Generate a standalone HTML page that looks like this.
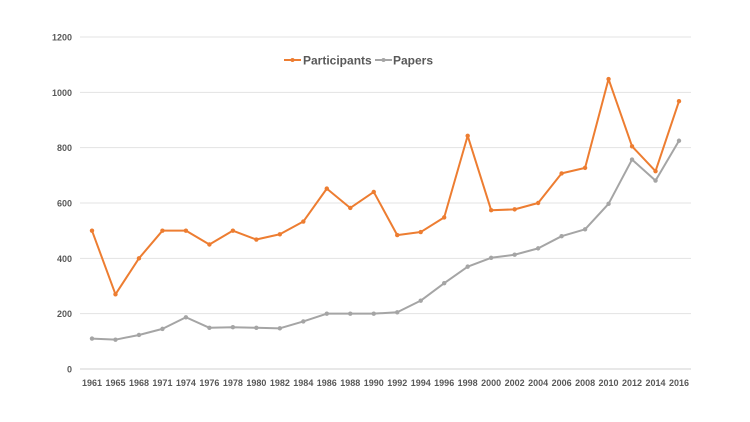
<!DOCTYPE html>
<html><head><meta charset="utf-8"><style>
body{margin:0;background:#fff}
svg{display:block;font-family:"Liberation Sans",sans-serif}
</style></head><body>
<svg id="chart" width="750" height="422" viewBox="0 0 750 422">
<g id="grid"></g>
<g id="yax"></g>
<g id="xax"></g>
<g id="series"></g>
<g>
 <g>
  <line x1="284" y1="60" x2="301" y2="60" stroke="#ED7D31" stroke-width="2"/><circle cx="292.5" cy="60" r="2" fill="#ED7D31"/>
  <text x="303" y="64.5" font-size="12" font-weight="bold" fill="#595959">Participants</text>
 </g>
 <g>
  <line x1="375" y1="60" x2="392" y2="60" stroke="#A5A5A5" stroke-width="2"/><circle cx="383.5" cy="60" r="2" fill="#A5A5A5"/>
  <text x="393" y="64.5" font-size="12" font-weight="bold" fill="#595959">Papers</text>
 </g>
</g>
</svg>
<script>
const categories=["1961","1965","1968","1971","1974","1976","1978","1980","1982","1984","1986","1988","1990","1992","1994","1996","1998","2000","2002","2004","2006","2008","2010","2012","2014","2016"];
const participants=[500,270,400,500,500,450,500,468,487,533,652,582,640,484,495,548,843,574,577,600,707,727,1048,805,715,968];
const papers=[110,106,123,145,187,149,151,149,147,172,200,200,200,205,247,310,370,402,413,436,480,505,597,757,681,825];
const yTicks=[0,200,400,600,800,1000,1200];
const NS="http://www.w3.org/2000/svg";
const x0=92,x1=679,yb=369,yt=37,ymax=1200;
function xs(i){return x0+(x1-x0)*i/(categories.length-1);}
function ys(v){return yb-(yb-yt)*v/ymax;}
function mk(t,a,p){const e=document.createElementNS(NS,t);for(const k in a)e.setAttribute(k,a[k]);p.appendChild(e);return e;}
const grid=document.getElementById('grid'),yax=document.getElementById('yax'),xax=document.getElementById('xax'),ser=document.getElementById('series');
yTicks.forEach(v=>{
 const l=mk('line',{x1:80,x2:691,y1:ys(v),y2:ys(v),stroke:v===0?'#d0d0d0':'#e3e3e3','stroke-width':1},grid);
 
 
 const t=mk('text',{x:72,y:ys(v)+3.5,'text-anchor':'end','font-size':9,'font-weight':'bold',fill:'#595959'},yax);
 t.textContent=v;
 
 
});
categories.forEach((c,i)=>{
 const t=mk('text',{x:xs(i),y:386,'text-anchor':'middle','font-size':9,'font-weight':'bold',fill:'#595959'},xax);
 t.textContent=c;
 
 
});
function draw(vals,color,name){
 const g=mk('g',{},ser);
 
 
 const pl=mk('polyline',{points:vals.map((v,i)=>xs(i)+','+ys(v)).join(' '),fill:'none',stroke:color,'stroke-width':2,'stroke-linejoin':'round'},g);
 
 
 vals.forEach((v,i)=>{
  const c=mk('circle',{cx:xs(i),cy:ys(v),r:2.2,fill:color},g);
  
  
 });
}
draw(papers,'#A5A5A5','papers');
draw(participants,'#ED7D31','participants');
</script>
</body></html>
